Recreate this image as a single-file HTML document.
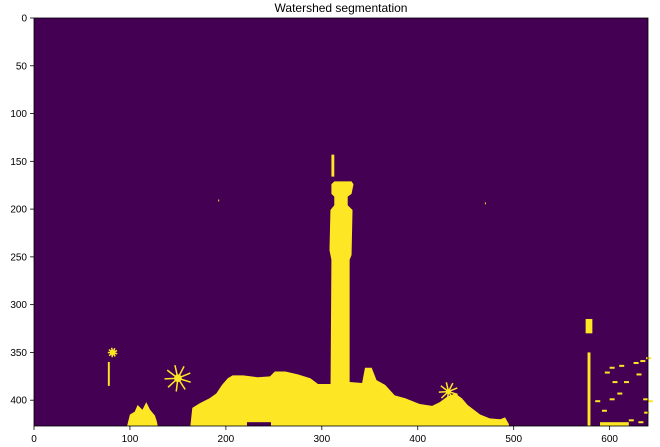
<!DOCTYPE html>
<html><head><meta charset="utf-8"><style>
body{margin:0;background:#fff;}
svg{display:block;font-family:"Liberation Sans","DejaVu Sans",sans-serif;}
</style></head><body>
<svg id="chart" width="660" height="447" viewBox="0 0 660 447" xmlns="http://www.w3.org/2000/svg">
<text x="341" y="12" text-anchor="middle" font-size="12" fill="#000">Watershed segmentation</text>
<g id="img"></g>
<g id="axes"></g>
</svg>
<script>
const xTicks=[0,100,200,300,400,500,600];
const yTicks=[0,50,100,150,200,250,300,350,400];
const imgW=640, imgH=427;
const spire=[[310,143],[313,143],[313,166],[310,166]];
const tower=[[310,174],[313,171],[331,171],[333,174],[331,184],[327,187],[327,196],[332,201],[331,248],[329,253],[329,427],[312,427],[309,400],[310,253],[308,243],[309,201],[313,196],[313,187],[310,184]];
const building=[[163,427],[165,408],[173,403],[183,398],[190,393],[196,384],[202,377],[207,374],[218,374],[233,376],[246,375],[251,370],[262,370],[275,373],[288,377],[296,383],[308,383],[329,381],[342,382],[345,366],[352,366],[357,379],[366,384],[376,395],[387,398],[402,404],[415,406],[423,402],[431,396],[439,393],[446,398],[452,405],[465,415],[475,419],[486,420],[491,418],[495,425],[495,427]];
const bush=[[97,427],[100,415],[105,412],[108,405],[113,410],[117,402],[121,410],[126,416],[128,422],[129,427]];
const stars=[[150,377,14,4],[432,391,10,2.5],[82,350,5,3]];
const rects=[[577,350,3,77],[575,315,7,15],[77,360,2,25],[590,423,30,4],[192,190,1,2],[470,193,1,2]];
const dots=[[600,365],[610,363],[625,360],[632,358],[638,355],[603,380],[615,380],[635,398],[640,400],[600,398],[620,420],[630,422],[592,410],[628,372],[608,392],[636,412],[585,400],[595,370]];
const gap=[[222,423,25,4]];
const NS="http://www.w3.org/2000/svg";
const X0=34,Y0=18,SX=614/imgW,SY=408/imgH;
const xs=d=>X0+d*SX, ys=d=>Y0+d*SY;
const g=document.getElementById('img'), ax=document.getElementById('axes');
const PUR="#440154", YEL="#fde725";
function mk(tag,attrs,parent){const e=document.createElementNS(NS,tag);for(const k in attrs)e.setAttribute(k,attrs[k]);parent.appendChild(e);return e;}
let bg=mk('rect',{x:xs(0),y:ys(0),width:xs(imgW)-xs(0),height:ys(imgH)-ys(0),fill:PUR},g);


function poly(pts,name){const p=mk('polygon',{points:pts.map(q=>xs(q[0])+','+ys(q[1])).join(' '),fill:YEL},g);

}
poly(spire,'tower-spire');poly(tower,'tower-segment');poly(building,'building-segment');poly(bush,'bush-segment');
stars.forEach(s=>{
 const c=mk('circle',{cx:xs(s[0]),cy:ys(s[1]),r:s[3]*SX,fill:YEL},g);
 
 
 for(let i=0;i<9;i++){const a=i*Math.PI*2/9+0.3;
  const l=mk('line',{x1:xs(s[0]),y1:ys(s[1]),x2:xs(s[0]+Math.cos(a)*s[2]),y2:ys(s[1]+Math.sin(a)*s[2]),stroke:YEL,'stroke-width':1.5},g);
  
  }
});
rects.forEach(r=>{const e=mk('rect',{x:xs(r[0]),y:ys(r[1]),width:r[2]*SX,height:r[3]*SY,fill:YEL},g);
 
 });
gap.forEach(r=>{const e=mk('rect',{x:xs(r[0]),y:ys(r[1]),width:r[2]*SX,height:r[3]*SY,fill:PUR},g);
 
 });
dots.forEach(d=>{const e=mk('rect',{x:xs(d[0]),y:ys(d[1]),width:5,height:2,fill:YEL},g);
 
 });
const frame=mk('rect',{x:xs(0),y:ys(0),width:xs(imgW)-xs(0),height:ys(imgH)-ys(0),fill:'none',stroke:'#000','stroke-width':0.8},ax);


xTicks.forEach(t=>{const x=xs(t);
 const l=mk('line',{x1:x,x2:x,y1:ys(imgH),y2:ys(imgH)+4,stroke:'#000','stroke-width':0.8},ax);
 
 
 const tx=mk('text',{x:x,y:ys(imgH)+16,'text-anchor':'middle','font-size':10,fill:'#000'},ax);tx.textContent=t;
 
 });
yTicks.forEach(t=>{const y=ys(t);
 const l=mk('line',{x1:xs(0)-4,x2:xs(0),y1:y,y2:y,stroke:'#000','stroke-width':0.8},ax);
 
 
 const tx=mk('text',{x:xs(0)-7,y:y+3.5,'text-anchor':'end','font-size':10,fill:'#000'},ax);tx.textContent=t;
 
 });
</script>
</body></html>
